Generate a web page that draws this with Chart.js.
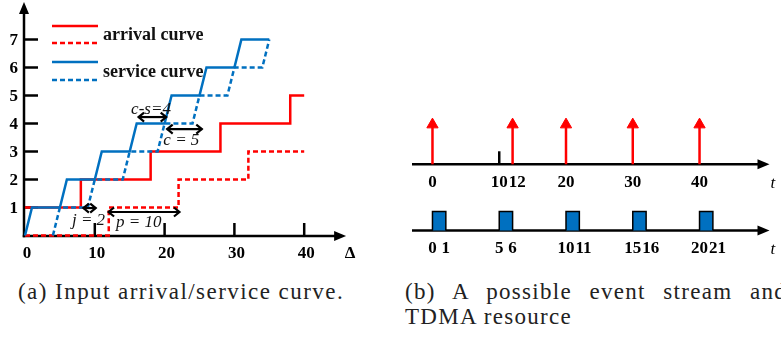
<!DOCTYPE html>
<html><head><meta charset="utf-8">
<script src="https://cdn.jsdelivr.net/npm/chart.js@4.4.0/dist/chart.umd.min.js"></script>
<style>
html,body{margin:0;padding:0;background:#fff;overflow:hidden;width:781px;height:339px;position:relative;}
#wa{position:absolute;left:0;top:0;width:390px;height:270px;}
#wb{position:absolute;left:400px;top:0;width:381px;height:270px;}
.cap{position:absolute;font-family:'Liberation Serif','Times New Roman',serif;font-size:23px;line-height:25px;color:#222;}
</style></head><body>
<div id="wa"><canvas id="ca" width="390" height="270"></canvas></div>
<div id="wb"><canvas id="cb" width="381" height="270"></canvas></div>
<div class="cap" style="left:18px;top:279px;white-space:nowrap;letter-spacing:1.45px;">(a) Input arrival/service curve.</div>
<div class="cap" style="left:405px;top:279px;width:382px;text-align:justify;letter-spacing:1.3px;">(b) A possible event stream and TDMA resource</div>
<script>
// ---------- Panel (a) data ----------
const arrivalUpperX = [0, 8, 18, 28, 38, 40];
const arrivalUpperY = [1, 2, 3, 4, 5, 5];
const arrivalLowerX = [0, 12, 22, 32, 40];
const arrivalLowerY = [0, 1, 2, 3, 3];
const serviceUpperX = [0, 1, 5, 6, 10, 11, 15, 16, 20, 21, 25, 26, 30, 31, 35];
const serviceUpperY = [0, 1, 1, 2, 2, 3, 3, 4, 4, 5, 5, 6, 6, 7, 7];
const serviceLowerX = [4, 5, 9, 10, 14, 15, 19, 20, 24, 25, 29, 30, 34, 35];
const serviceLowerY = [0, 1, 1, 2, 2, 3, 3, 4, 4, 5, 5, 6, 6, 7];
const aXTickLabels = [0, 10, 20, 30, 40];
const aXTickMarks = [10, 20, 30, 40];
const aYTickLabels = [1, 2, 3, 4, 5, 6, 7];
const aAxisTitle = 'Δ';
const legendLabels = ['arrival curve', 'service curve'];
const annotLabels = ['c-s=4', 'c = 5', 'j = 2', 'p = 10'];
const annotFrom = [16.2, 20.3, 8.3, 11.9];
const annotTo = [20.3, 25.4, 10.2, 22.2];
const annotLevel = [4.23, 3.8, 0.98, 0.84];
const annotTextX = [18.05, 22.4, 9.1, 16.3];
const annotTextY = [4.5, 3.38, 0.55, 0.48];

// ---------- Panel (b) data ----------
const eventTimes = [0, 12, 20, 30, 40];
const eventAxisLabels = [0, 10, 12, 20, 30, 40];
const eventAxisMarks = [10];
const slotStarts = [0, 5, 10, 15, 20];
const slotEnds = [1, 6, 11, 16, 21];
const timeAxisTitle = 't';

const RED = '#ff0000';
const BLUE = '#0070c0';
const FAM = "'Liberation Serif', 'Times New Roman', serif";
const boldFont = 'bold 17px ' + FAM;
const italicFont = 'italic 17px ' + FAM;
const legendFont = 'bold 18px ' + FAM;

const pts = (xs, ys) => xs.map((v, i) => ({x: v, y: ys[i]}));

function line(ctx, x1, y1, x2, y2) { ctx.beginPath(); ctx.moveTo(x1, y1); ctx.lineTo(x2, y2); ctx.stroke(); }
function triRight(ctx, tipX, y, len, half) { ctx.beginPath(); ctx.moveTo(tipX, y); ctx.lineTo(tipX - len, y - half); ctx.lineTo(tipX - len, y + half); ctx.closePath(); ctx.fill(); }
function triUp(ctx, x, tipY, len, half) { ctx.beginPath(); ctx.moveTo(x, tipY); ctx.lineTo(x - half, tipY + len); ctx.lineTo(x + half, tipY + len); ctx.closePath(); ctx.fill(); }
function dblArrow(ctx, x1, x2, y) {
  line(ctx, x1, y, x2, y);
  ctx.beginPath(); ctx.moveTo(x1 + 6, y - 4.5); ctx.lineTo(x1 + 0.5, y); ctx.lineTo(x1 + 6, y + 4.5); ctx.stroke();
  ctx.beginPath(); ctx.moveTo(x2 - 6, y - 4.5); ctx.lineTo(x2 - 0.5, y); ctx.lineTo(x2 - 6, y + 4.5); ctx.stroke();
}

const panelAPlugin = {
  id: 'panelA',
  beforeDatasetsDraw(chart) {
    const {ctx, chartArea, scales: {x, y}} = chart;
    const x0 = x.getPixelForValue(0) - 1;
    const y0 = y.getPixelForValue(0) + 0.5;
    ctx.save();
    ctx.strokeStyle = '#000'; ctx.fillStyle = '#000'; ctx.lineWidth = 2.5;
    line(ctx, x0, y0 + 1.25, x0, chartArea.top + 2);
    triUp(ctx, x0, chartArea.top - 9.5, 12, 5);
    line(ctx, x0 - 1.25, y0, chartArea.right - 4, y0);
    triRight(ctx, chartArea.right + 7, y0, 12, 5);
    aYTickLabels.forEach(v => { const py = y.getPixelForValue(v); line(ctx, x0, py, x0 + 14, py); });
    aXTickMarks.forEach(v => { const px = x.getPixelForValue(v); line(ctx, px, y0, px, y0 - 13); });
    ctx.font = boldFont; ctx.textBaseline = 'middle';
    ctx.textAlign = 'right';
    aYTickLabels.forEach(v => ctx.fillText(String(v), x0 - 6, y.getPixelForValue(v) + 1));
    ctx.textAlign = 'center';
    aXTickLabels.forEach(v => ctx.fillText(String(v), x.getPixelForValue(v) + 2, y0 + 18));
    ctx.fillText(aAxisTitle, chartArea.right + 11, y0 + 18);
    ctx.restore();
  },
  afterDatasetsDraw(chart) {
    const {ctx, scales: {x, y}} = chart;
    ctx.save();
    ctx.lineWidth = 2.5;
    const rows = [[26, 43, RED], [62, 80, BLUE]];
    rows.forEach((r, i) => {
      ctx.strokeStyle = r[2];
      ctx.setLineDash([]); line(ctx, 52, r[0], 98, r[0]);
      ctx.setLineDash([5, 3]); line(ctx, 52, r[1], 98, r[1]);
      ctx.setLineDash([]);
      ctx.fillStyle = '#111'; ctx.font = legendFont; ctx.textAlign = 'left'; ctx.textBaseline = 'middle';
      ctx.fillText(legendLabels[i], 103, (r[0] + r[1]) / 2 + 1);
    });
    ctx.strokeStyle = '#000'; ctx.fillStyle = '#111'; ctx.lineWidth = 2.2;
    ctx.font = italicFont; ctx.textAlign = 'center'; ctx.textBaseline = 'middle';
    annotLabels.forEach((t, i) => {
      dblArrow(ctx, x.getPixelForValue(annotFrom[i]), x.getPixelForValue(annotTo[i]), y.getPixelForValue(annotLevel[i]));
      ctx.fillText(t, x.getPixelForValue(annotTextX[i]), y.getPixelForValue(annotTextY[i]));
    });
    ctx.restore();
  }
};

new Chart(document.getElementById('ca'), {
  type: 'line',
  data: {
    datasets: [
      {data: pts(serviceUpperX, serviceUpperY), borderColor: BLUE, borderWidth: 2.5, clip: false},
      {data: pts(serviceLowerX, serviceLowerY), borderColor: BLUE, borderWidth: 2.5, borderDash: [5, 3], clip: false},
      {data: pts(arrivalUpperX, arrivalUpperY), borderColor: RED, borderWidth: 2.5, stepped: 'before', clip: false},
      {data: pts(arrivalLowerX, arrivalLowerY), borderColor: RED, borderWidth: 2.5, borderDash: [5, 3], stepped: 'before', clip: false}
    ]
  },
  options: {
    responsive: false, animation: false, events: [],
    layout: {padding: {left: 25, right: 390 - 25 - 45 * 6.98, top: 11.5, bottom: 34.5}},
    scales: {
      x: {type: 'linear', min: 0, max: 45, display: false},
      y: {type: 'linear', min: 0, max: 8, display: false}
    },
    elements: {point: {radius: 0}, line: {tension: 0, fill: false}},
    plugins: {legend: {display: false}, tooltip: {enabled: false}}
  },
  plugins: [panelAPlugin]
});

const ORIGIN_PX = 26, TOP_PX_PER_UNIT = 6.95, BOT_PX_PER_UNIT = 13.9, WIDTH_B = 381, HEIGHT_B = 270;
const TOP_BASE_PX = 166, TOP_UNIT_PX = 42, BOT_BASE_PX = 236, BOT_UNIT_PX = 20;
function xRange(ppu) { const min = -ORIGIN_PX / ppu; return {min, max: min + WIDTH_B / ppu}; }
function yRange(base, ppu) { const max = base / ppu; return {min: max - HEIGHT_B / ppu, max}; }

function placeLabels(ctx, scale, values, py) {
  let prevRight = -Infinity;
  [...values].sort((a, b) => a - b).forEach(v => {
    const s = String(v), w = ctx.measureText(s).width;
    let left = scale.getPixelForValue(v) - w / 2;
    if (left < prevRight + 1) left = prevRight + 1;
    ctx.fillText(s, left, py);
    prevRight = left + w;
  });
}

const panelBPlugin = {
  id: 'panelB',
  beforeDatasetsDraw(chart) {
    const {ctx, chartArea, scales} = chart;
    ctx.save();
    ctx.strokeStyle = '#000'; ctx.fillStyle = '#000'; ctx.lineWidth = 2.5;
    const rows = [
      {xs: scales.xTop, ys: scales.yTop, labels: eventAxisLabels},
      {xs: scales.xBot, ys: scales.yBot, labels: [...slotStarts, ...slotEnds]}
    ];
    rows.forEach(r => {
      const py = r.ys.getPixelForValue(0);
      const tip = chartArea.right - 4;
      line(ctx, 12, py, tip - 8, py);
      triRight(ctx, tip, py, 12, 5);
      ctx.font = boldFont; ctx.textAlign = 'left'; ctx.textBaseline = 'middle';
      placeLabels(ctx, r.xs, r.labels, py + 18);
      ctx.font = italicFont;
      ctx.fillText(timeAxisTitle, tip + 1, py + 19);
    });
    const pyTop = scales.yTop.getPixelForValue(0);
    eventAxisMarks.forEach(v => { const px = scales.xTop.getPixelForValue(v); line(ctx, px, pyTop, px, pyTop - 13); });
    ctx.restore();
  }
};

const bDatasets = [];
eventTimes.forEach(t => bDatasets.push({
  data: [{x: t, y: 0}, {x: t, y: 1}], xAxisID: 'xTop', yAxisID: 'yTop',
  borderColor: RED, borderWidth: 2.5, clip: false,
  pointStyle: 'triangle', pointRadius: c => c.dataIndex === 1 ? 6.5 : 0,
  pointBackgroundColor: RED, pointBorderColor: RED, pointBorderWidth: 1
}));
slotStarts.forEach((s, i) => bDatasets.push({
  data: [{x: s, y: 0}, {x: s, y: 1}, {x: slotEnds[i], y: 1}, {x: slotEnds[i], y: 0}],
  xAxisID: 'xBot', yAxisID: 'yBot', fill: 'origin',
  backgroundColor: BLUE, borderColor: '#000', borderWidth: 1.5, pointRadius: 0, clip: false
}));

new Chart(document.getElementById('cb'), {
  type: 'line',
  data: {datasets: bDatasets},
  options: {
    responsive: false, animation: false, events: [],
    layout: {padding: 0},
    scales: {
      xTop: Object.assign({type: 'linear', axis: 'x', display: false}, xRange(TOP_PX_PER_UNIT)),
      xBot: Object.assign({type: 'linear', axis: 'x', display: false}, xRange(BOT_PX_PER_UNIT)),
      yTop: Object.assign({type: 'linear', axis: 'y', display: false}, yRange(TOP_BASE_PX, TOP_UNIT_PX)),
      yBot: Object.assign({type: 'linear', axis: 'y', display: false}, yRange(BOT_BASE_PX, BOT_UNIT_PX))
    },
    elements: {line: {tension: 0}},
    plugins: {legend: {display: false}, tooltip: {enabled: false}}
  },
  plugins: [panelBPlugin]
});
</script>
</body></html>
